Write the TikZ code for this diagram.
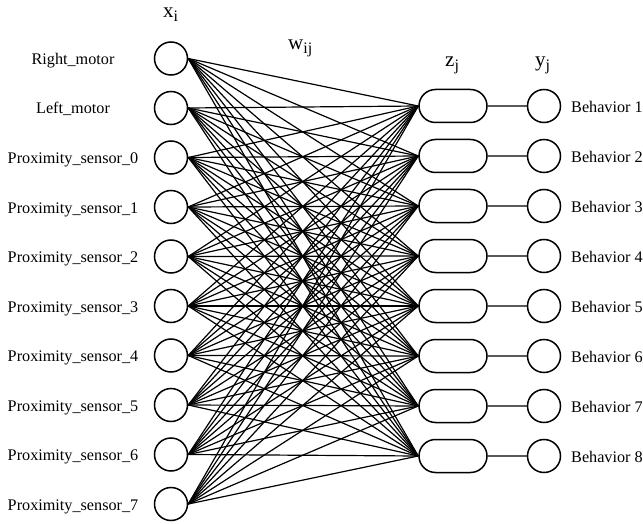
\documentclass[tikz,border=0pt]{standalone}
\usepackage{fontspec}
\setmainfont{Liberation Serif}
\usetikzlibrary{shapes.misc}
\newcommand\sbs[1]{\raisebox{-0.4ex}{\fontsize{16}{16}\selectfont #1}}
\tikzset{
  unit/.style={circle,draw,line width=1.5pt,minimum size=33pt,inner sep=0pt},
  hid/.style={rounded rectangle,draw,line width=1.5pt,minimum width=68pt,minimum height=33pt,inner sep=0pt},
  lab/.style={font=\fontsize{16.2}{17}\selectfont,inner sep=0pt},
  head/.style={font=\fontsize{21}{22}\selectfont,inner sep=0pt,anchor=base west},
  conn/.style={line width=1.2pt},
}
\begin{document}
\begin{tikzpicture}[x=1pt,y=-1pt]
\useasboundingbox (0,0) rectangle (643,524);
\foreach \t [count=\i from 0] in {Right\_motor,Left\_motor,Proximity\_sensor\_0,Proximity\_sensor\_1,Proximity\_sensor\_2,Proximity\_sensor\_3,Proximity\_sensor\_4,Proximity\_sensor\_5,Proximity\_sensor\_6,Proximity\_sensor\_7}{
  \pgfmathsetmacro\yy{58.5+49.5*\i}
  \node[unit] (in\i) at (171,\yy) {};
  \node[lab,anchor=base] (inl\i) at (73,\yy+6) {\t};
}
\foreach \j in {1,...,8}{
  \pgfmathsetmacro\yy{106+50*(\j-1)}
  \node[hid] (h\j) at (453,\yy) {};
  \node[unit] (o\j) at (544,\yy) {};
  \node[lab,anchor=base west] (ol\j) at (571,\yy+6.5) {Behavior \j};
  \draw[conn] (h\j) -- (o\j);
}
\foreach \i in {0,...,9}{
  \foreach \j in {1,...,8}{
    \draw[conn] (in\i.east) -- (h\j.west);
  }
}
\node[head] (hx) at (163,18) {x\sbs{i}};
\node[head] (hw) at (288,50) {w\sbs{ij}};
\node[head] (hz) at (445,67) {z\sbs{j}};
\node[head] (hy) at (535,67) {y\sbs{j}};
\end{tikzpicture}
\end{document}
